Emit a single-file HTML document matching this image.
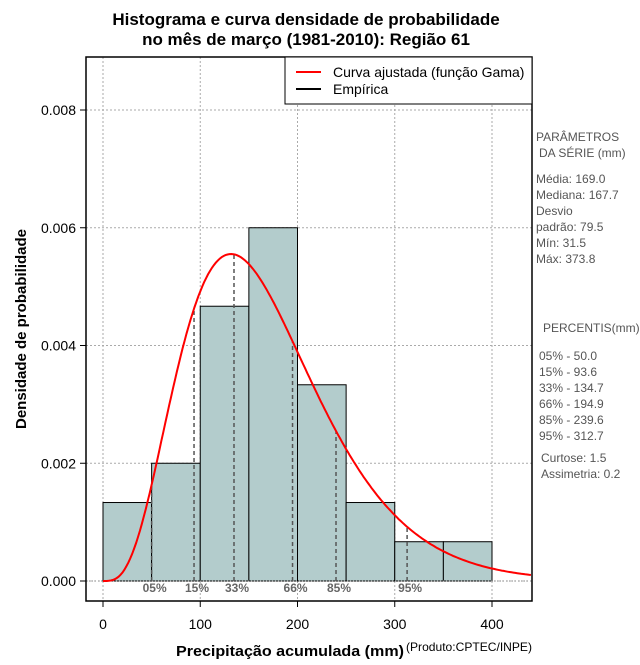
<!DOCTYPE html>
<html><head><meta charset="utf-8"><style>
body{margin:0;background:#fff}
svg text{font-family:"Liberation Sans",sans-serif}
</style></head><body>
<svg id="c" width="640" height="660" xmlns="http://www.w3.org/2000/svg">
<text x="306" y="25" text-anchor="middle" font-size="17" font-weight="bold">Histograma e curva densidade de probabilidade</text>
<text x="306" y="45" text-anchor="middle" font-size="17" font-weight="bold">no mês de março (1981-2010): Região 61</text>
<g id="grid"></g><g id="bars"></g><g id="pct"></g><g id="curve"></g><g id="axes"></g>
<rect x="86" y="57" width="446" height="544" fill="none" stroke="#000" stroke-width="1.5"/>
<g>
<rect x="285" y="57" width="247" height="47" fill="#fff" stroke="#000"/>
<line x1="296" y1="72" x2="321" y2="72" stroke="red" stroke-width="2"/>
<text x="333" y="77" font-size="14">Curva ajustada (função Gama)</text>
<line x1="296" y1="89" x2="321" y2="89" stroke="#000" stroke-width="2"/>
<text x="333" y="94" font-size="14">Empírica</text>
</g>
<text x="404" y="656" text-anchor="end" font-size="15" font-weight="bold" textLength="228" lengthAdjust="spacingAndGlyphs">Precipitação acumulada (mm)</text>
<text x="406" y="651" font-size="12" textLength="126" lengthAdjust="spacingAndGlyphs">(Produto:CPTEC/INPE)</text>
<text transform="translate(26,329) rotate(-90)" text-anchor="middle" font-size="15" font-weight="bold">Densidade de probabilidade</text>
<g font-size="12" fill="#555">
<text x="536" y="141">PARÂMETROS</text><text x="539" y="157">DA SÉRIE (mm)</text>
<text x="536" y="183">Média:  169.0</text><text x="536" y="199">Mediana:  167.7</text>
<text x="536" y="215">Desvio</text><text x="536" y="231">padrão:  79.5</text>
<text x="536" y="247">Mín:  31.5</text><text x="536" y="263">Máx:  373.8</text>
<text x="543" y="332">PERCENTIS(mm)</text>
<text x="539" y="360">05% -   50.0</text><text x="539" y="376">15% -   93.6</text>
<text x="539" y="392">33% -   134.7</text><text x="539" y="408">66% -   194.9</text>
<text x="539" y="424">85% -   239.6</text><text x="539" y="440">95% -   312.7</text>
<text x="541" y="462">Curtose:  1.5</text><text x="541" y="478">Assimetria:  0.2</text>
</g>
</svg>
<script>
const binEdges=[0,50,100,150,200,250,300,350,400];
const densities=[0.001333,0.002,0.004667,0.006,0.003333,0.001333,0.000667,0.000667];
const xTicks=[0,100,200,300,400];
const yTicks=[0,0.002,0.004,0.006,0.008];
const yTickLabels=["0.000","0.002","0.004","0.006","0.008"];
const pctLabels=["05%","15%","33%","66%","85%","95%"];
const pctValues=[50.0,93.6,134.7,194.9,239.6,312.7];
const gammaMean=[169.0];
const gammaSd=[79.5];
const NS="http://www.w3.org/2000/svg";
const X=v=>103+v*(389/400), Y=v=>581-v*58875;
function mk(t,a,p){const e=document.createElementNS(NS,t);for(const k in a)e.setAttribute(k,a[k]);p.appendChild(e);return e;}
const k=(gammaMean[0]/gammaSd[0])**2, th=gammaSd[0]**2/gammaMean[0];
function lg(z){const g=[676.5203681218851,-1259.1392167224028,771.32342877765313,-176.61502916214059,12.507343278686905,-0.13857109526572012,9.9843695780195716e-6,1.5056327351493116e-7];z-=1;let x=0.99999999999980993;for(let i=0;i<8;i++)x+=g[i]/(z+i+1);const t=z+7.5;return 0.5*Math.log(2*Math.PI)+(z+0.5)*Math.log(t)-t+Math.log(x);}
const pdf=x=>x<=0?0:Math.exp((k-1)*Math.log(x)-x/th-lg(k)-k*Math.log(th));
const grid=document.getElementById('grid'),bars=document.getElementById('bars'),pct=document.getElementById('pct'),curve=document.getElementById('curve'),axes=document.getElementById('axes');
xTicks.forEach(v=>{
 let l=mk('line',{x1:X(v),x2:X(v),y1:57,y2:601,stroke:'#aaa','stroke-dasharray':'2,2'},grid);
 
 let t=mk('line',{x1:X(v),x2:X(v),y1:601,y2:607,stroke:'#000'},axes);
 
 let s=mk('text',{x:X(v),y:629,'text-anchor':'middle','font-size':14},axes);s.textContent=v;
 
});
yTicks.forEach((v,i)=>{
 let l=mk('line',{x1:86,x2:532,y1:Y(v),y2:Y(v),stroke:'#aaa','stroke-dasharray':'2,2'},grid);
 
 let t=mk('line',{x1:80,x2:86,y1:Y(v),y2:Y(v),stroke:'#000'},axes);
 
 let s=mk('text',{x:76,y:Y(v)+5,'text-anchor':'end','font-size':14},axes);s.textContent=yTickLabels[i];
 
});
densities.forEach((d,i)=>{
 let r=mk('rect',{x:X(binEdges[i]),y:Y(d),width:X(binEdges[i+1])-X(binEdges[i]),height:Y(0)-Y(d),fill:'#b3cccc',stroke:'#000','stroke-width':1},bars);
 
});
let gl=mk('line',{x1:86,x2:532,y1:Y(0),y2:Y(0),stroke:'#888','stroke-dasharray':'1,2'},bars);

pctValues.forEach((v,i)=>{
 let l=mk('line',{x1:X(v),x2:X(v),y1:Y(0),y2:Y(pdf(v)),stroke:'#555','stroke-width':1.5,'stroke-dasharray':'4,3'},pct);
 
 let s=mk('text',{x:X(v)+3,y:592,'text-anchor':'middle','font-size':12,'font-weight':'bold',fill:'#666'},pct);s.textContent=pctLabels[i];
 
});
let d='';for(let x=0;x<=441;x+=2){d+=(x?'L':'M')+X(x).toFixed(1)+','+Y(pdf(x)).toFixed(1);}
let p=mk('path',{d:d,fill:'none',stroke:'red','stroke-width':2},curve);

</script>
</body></html>
